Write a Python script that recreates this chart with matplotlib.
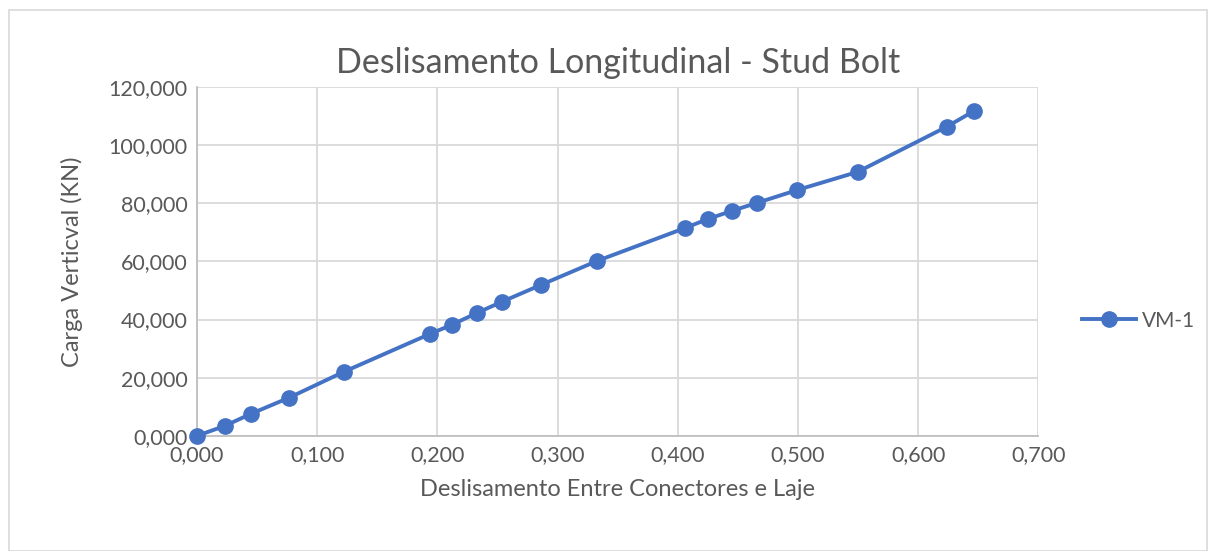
import matplotlib.pyplot as plt
from matplotlib.ticker import FuncFormatter
from matplotlib.patches import Rectangle

# deslisamento (mm) e carga (kN)
slip = [0.000, 0.023, 0.045, 0.0765, 0.122, 0.194, 0.212, 0.233, 0.2535, 0.286,
        0.333, 0.406, 0.425, 0.445, 0.4655, 0.4995, 0.5495, 0.6235, 0.6465]
load = [0.0, 3.4, 7.6, 13.1, 22.0, 35.1, 38.2, 42.3, 46.1, 51.9,
        60.2, 71.5, 74.6, 77.4, 80.1, 84.6, 90.8, 106.3, 111.8]
series_name = "VM-1"

plt.rcParams['font.family'] = ['Lato', 'DejaVu Sans']
blue = '#4472C4'
grey_text = '#595959'

fig = plt.figure(figsize=(12.16, 5.51), dpi=100)
ax = fig.add_axes([0.162, 0.209, 0.692, 0.633])

ax.plot(slip, load, color=blue, lw=2.8, marker='o', ms=11, label=series_name,
        zorder=3, clip_on=False)

ax.set_xlim(0, 0.7)
ax.set_ylim(0, 120)
ax.set_xticks([i / 10 for i in range(8)])
ax.set_yticks(range(0, 121, 20))
comma = FuncFormatter(lambda v, p: f"{v:.3f}".replace('.', ','))
ax.xaxis.set_major_formatter(comma)
ax.yaxis.set_major_formatter(comma)
ax.grid(True, color='#d9d9d9', lw=1.3, zorder=0)
for s in ['top', 'right']:
    ax.spines[s].set_visible(False)
for s in ['left', 'bottom']:
    ax.spines[s].set_color('#bfbfbf')
    ax.spines[s].set_linewidth(1.3)
ax.tick_params(length=0, labelsize=15.5, labelcolor=grey_text, pad=7)

ax.set_title("Deslisamento Longitudinal - Stud Bolt", fontsize=24.5, color=grey_text, pad=10)
ax.set_xlabel("Deslisamento Entre Conectores e Laje", fontsize=17, color=grey_text, labelpad=10)
ax.set_ylabel("Carga Verticval (KN)", fontsize=17, color=grey_text, labelpad=18)

leg = fig.legend(loc='center left', bbox_to_anchor=(0.874, 0.418), frameon=False,
                 fontsize=15, handlelength=2.6, handletextpad=0.3)
for t in leg.get_texts():
    t.set_color(grey_text)

fig.patches.append(Rectangle((0.007, 0.0), 0.986, 0.982, transform=fig.transFigure,
                             fill=False, edgecolor='#d9d9d9', lw=1.2))

fig.savefig("out.png", dpi=100)
